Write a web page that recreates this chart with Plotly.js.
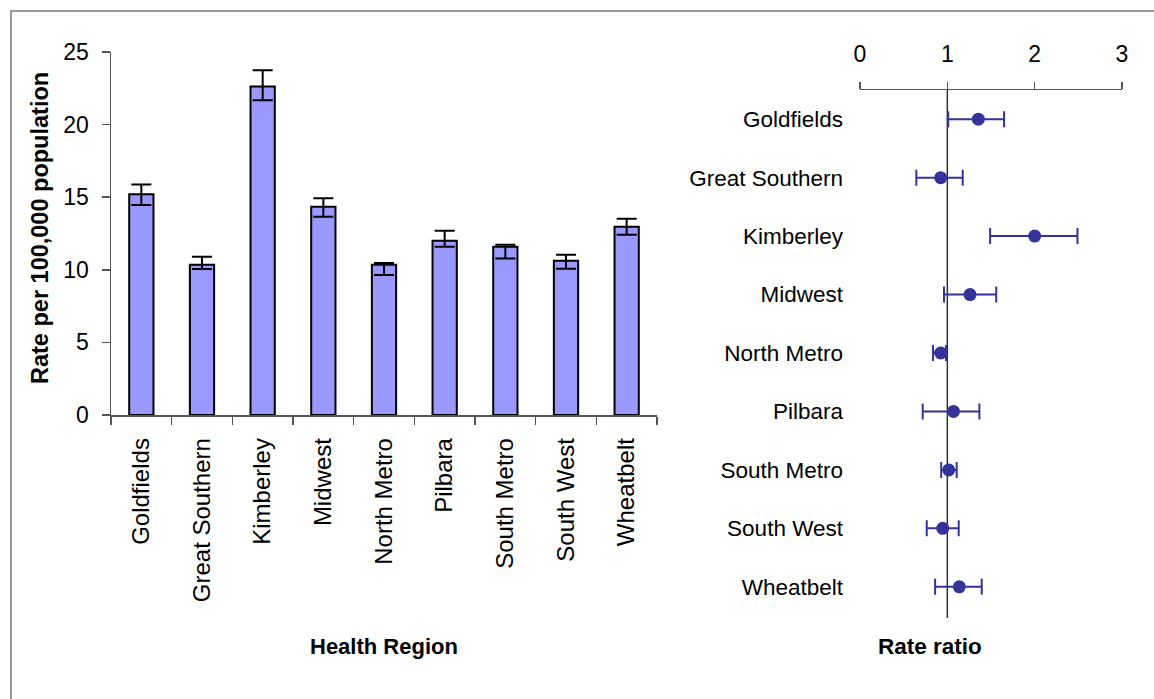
<!DOCTYPE html>
<html>
<head>
<meta charset="utf-8">
<script src="https://cdn.plot.ly/plotly-3.0.1.min.js"></script>
<style>html,body{margin:0;padding:0;background:#fff;} #chart{width:1154px;height:699px;}</style>
</head>
<body>
<div id="chart"></div>
<script>
// Health regions
const regions = ["Goldfields","Great Southern","Kimberley","Midwest","North Metro","Pilbara","South Metro","South West","Wheatbelt"];
// Rate per 100,000 population with 95% CI
const rates     = [15.2, 10.35, 22.63, 14.35, 10.35, 12.0, 11.59, 10.63, 12.97];
const rateLower = [14.46, 10.06, 21.67, 13.66, 9.64, 11.59, 10.77, 10.08, 12.42];
const rateUpper = [15.88, 10.9, 23.74, 14.92, 10.47, 12.69, 11.73, 11.04, 13.52];
// Rate ratio with 95% CI
const ratios     = [1.355, 0.924, 2.0, 1.26, 0.924, 1.07, 1.016, 0.947, 1.137];
const ratioLower = [1.01, 0.645, 1.49, 0.962, 0.836, 0.718, 0.93, 0.764, 0.86];
const ratioUpper = [1.65, 1.176, 2.49, 1.56, 0.985, 1.367, 1.107, 1.13, 1.394];
const rateTicks = [0, 5, 10, 15, 20, 25];
const ratioTicks = [0, 1, 2, 3];

const W = 1154, H = 699;
const px = v => v / W;
const py = v => 1 - v / H;
const FONT = "Liberation Sans, Arial, sans-serif";

const barTrace = {
  type: "bar",
  x: regions,
  y: rates,
  xaxis: "x", yaxis: "y",
  marker: {color: "#9999FF", line: {color: "#000000", width: 2}},
  error_y: {
    type: "data", symmetric: false,
    array: rates.map((v, i) => rateUpper[i] - v),
    arrayminus: rates.map((v, i) => v - rateLower[i]),
    color: "#000000", thickness: 2, width: 10
  },
  hoverinfo: "x+y"
};

const forestTrace = {
  type: "scatter", mode: "markers",
  x: ratios, y: regions,
  xaxis: "x2", yaxis: "y2",
  marker: {color: "#333399", size: 13},
  error_x: {
    type: "data", symmetric: false,
    array: ratios.map((v, i) => ratioUpper[i] - v),
    arrayminus: ratios.map((v, i) => v - ratioLower[i]),
    color: "#333399", thickness: 2, width: 8
  }
};

const layout = {
  width: W, height: H,
  margin: {l: 0, r: 0, t: 0, b: 0},
  paper_bgcolor: "#ffffff", plot_bgcolor: "rgba(0,0,0,0)",
  showlegend: false,
  font: {family: FONT, color: "#000000", size: 22},
  bargap: 0.6,
  xaxis: {
    domain: [px(111), px(657)],
    type: "category",
    showline: true, linecolor: "#555555", linewidth: 1.5,
    ticks: "outside", tickson: "boundaries", ticklen: 8, tickcolor: "#555555", tickwidth: 1.5,
    tickangle: -90, tickfont: {size: 24, family: FONT},
    ticklabelstandoff: 12,
    showgrid: false, zeroline: false, fixedrange: true
  },
  yaxis: {
    domain: [py(415), py(52)],
    range: [0, 25],
    tickvals: rateTicks, ticktext: rateTicks.map(String),
    showline: true, linecolor: "#555555", linewidth: 1.5,
    ticks: "outside", ticklen: 8, tickcolor: "#555555", tickwidth: 1.5,
    tickfont: {size: 23, family: FONT},
    ticklabelstandoff: 8,
    showgrid: false, zeroline: false, fixedrange: true
  },
  xaxis2: {
    domain: [px(860), px(1122)],
    anchor: "y2", side: "top",
    range: [0, 3],
    tickvals: ratioTicks, ticktext: ratioTicks.map(String),
    showline: true, linecolor: "#555555", linewidth: 1.5,
    ticks: "outside", ticklen: 7, tickcolor: "#555555", tickwidth: 1.5,
    tickfont: {size: 23, family: FONT},
    ticklabelstandoff: 10,
    showgrid: false, zeroline: false, fixedrange: true
  },
  yaxis2: {
    domain: [py(616), py(90)],
    anchor: "x2",
    type: "category",
    range: [8.5, -0.5],
    showline: false, ticks: "",
    tickfont: {size: 22.5, family: FONT},
    ticklabelstandoff: 16,
    showgrid: false, zeroline: false, fixedrange: true
  },
  shapes: [
    {type: "rect", xref: "paper", yref: "paper", x0: px(11), x1: 1.05, y0: -0.05, y1: py(11),
     line: {color: "#9a9a9a", width: 2}, fillcolor: "rgba(0,0,0,0)", layer: "below"},
    {type: "line", xref: "x2", yref: "paper", x0: 1, x1: 1, y0: py(618), y1: py(90),
     line: {color: "#333333", width: 1.5}, layer: "below"}
  ],
  annotations: [
    {text: "<b>Rate per 100,000 population</b>", xref: "paper", yref: "paper",
     x: px(40), y: py(228), textangle: -90, showarrow: false,
     font: {size: 23.5, family: FONT, color: "#000"}, xanchor: "center", yanchor: "middle"},
    {text: "<b>Health Region</b>", xref: "paper", yref: "paper",
     x: px(384), y: py(646), showarrow: false,
     font: {size: 22, family: FONT, color: "#000"}, xanchor: "center", yanchor: "middle"},
    {text: "<b>Rate ratio</b>", xref: "paper", yref: "paper",
     x: px(930), y: py(646), showarrow: false,
     font: {size: 22.5, family: FONT, color: "#000"}, xanchor: "center", yanchor: "middle"}
  ]
};

Plotly.newPlot("chart", [barTrace, forestTrace], layout, {displayModeBar: false, staticPlot: true});
</script>
</body>
</html>
